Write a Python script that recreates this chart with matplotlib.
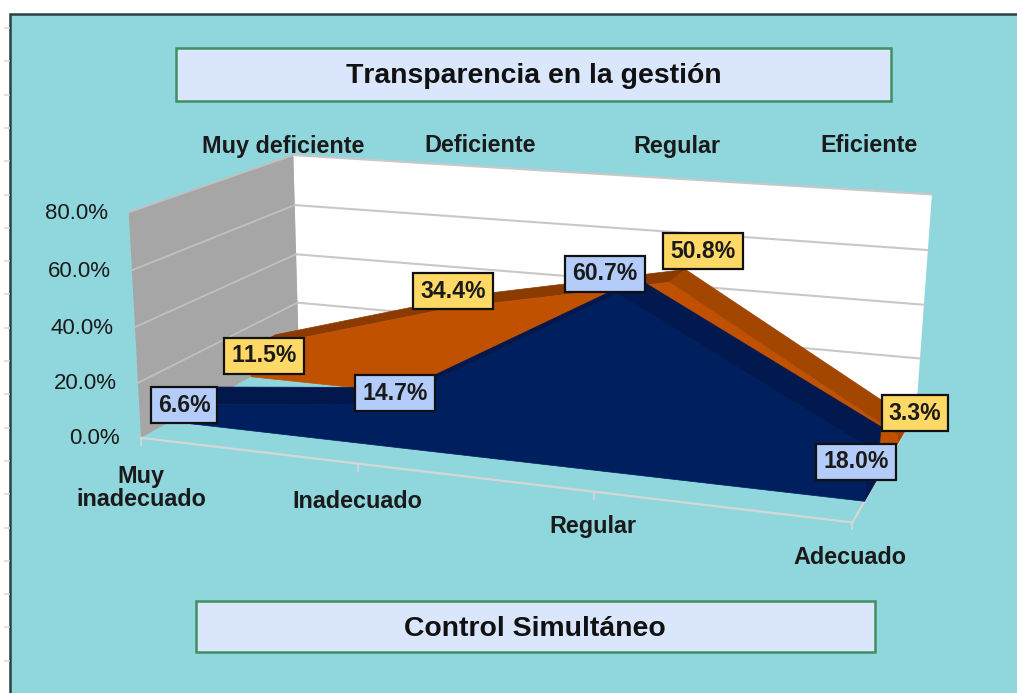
import numpy as np
import matplotlib
matplotlib.use('Agg')
import matplotlib.pyplot as plt
from matplotlib.patches import Polygon, Rectangle

plt.rcParams['font.family'] = ['Liberation Sans', 'DejaVu Sans']
plt.rcParams['text.kerning_factor'] = 6

categories = ['Muy\ninadecuado', 'Inadecuado', 'Regular', 'Adecuado']
top_labels = ['Muy deficiente', 'Deficiente', 'Regular', 'Eficiente']
blue_values = [6.6, 14.7, 60.7, 18.0]
orange_values = [11.5, 34.4, 50.8, 3.3]
y_ticks = [0, 20, 40, 60, 80]

title = 'Transparencia en la gestión'
x_title = 'Control Simultáneo'

# where the labels sit, in image pixels
blue_label_xy = [(184, 405), (395, 393), (605, 274), (856, 462)]
orange_label_xy = [(264, 356), (453, 291), (703, 251), (915, 413)]
top_label_xy = [(283, 146), (480, 146), (677, 146), (869, 146)]
cat_label_xy = [(141, 488), (357, 501), (593, 527), (850, 558)]

BG = '#90D7DD'
ORANGE = '#C05100'
ORANGE_UP = '#8C3B00'
ORANGE_DOWN = '#A24600'
NAVY = '#001F5E'
NAVY_UP = '#02184C'
NAVY_DOWN = '#01194E'

# fit a projective camera: (category 0-1, depth 0-1, value 0-1) -> pixel
anchors = [
    ((0, 0, 0), (141, 437)), ((1, 0, 0), (851, 522)),
    ((0, 1, 0), (299, 352)), ((1, 1, 0), (918, 410)),
    ((0, 0, 1), (129, 211)), ((1, 0, 1), (871, 270)),
    ((0, 1, 1), (293, 155)), ((1, 1, 1), (930, 194)),
    ((1 / 3, 0, 0), (358, 464)), ((2 / 3, 0, 0), (593, 492)),
]
rows, rhs = [], []
for (a, b, c), (px, py) in anchors:
    rows.append([a, b, c, 1, 0, 0, 0, 0, -px * a, -px * b, -px * c])
    rhs.append(px)
    rows.append([0, 0, 0, 0, a, b, c, 1, -py * a, -py * b, -py * c])
    rhs.append(py)
cam = np.append(np.linalg.lstsq(np.array(rows, float), np.array(rhs, float), rcond=None)[0], 1).reshape(3, 4)


def proj(cat, depth, val):
    # cat is a category index, val is in percent
    p = cam @ np.array([cat / 3, depth, val / 80, 1])
    return p[0] / p[2], p[1] / p[2]


fig = plt.figure(figsize=(10.17, 6.93), dpi=100)
ax = fig.add_axes([0, 0, 1, 1])
ax.set_xlim(0, 1017)
ax.set_ylim(693, 0)
ax.axis('off')

# picture frame and the ruler ticks left of it
ax.add_patch(Rectangle((10, 14), 1010, 690, fc=BG, ec='#2C3E44', lw=1.8))
for y in np.arange(28, 693, 33.3):
    ax.plot([5, 9], [y, y], color='#DADADA', lw=1.2)

# walls
ax.add_patch(Polygon([proj(0, 1, 0), proj(3, 1, 0), proj(3, 1, 80), proj(0, 1, 80)],
                     fc='white', ec='none'))
ax.add_patch(Polygon([proj(0, 0, 0), proj(0, 1, 0), proj(0, 1, 80), proj(0, 0, 80)],
                     fc='#A6A6A6', ec='none'))
for v in y_ticks:
    back_l, back_r, front_l = proj(0, 1, v), proj(3, 1, v), proj(0, 0, v)
    if v > 0:
        ax.plot([back_l[0], back_r[0]], [back_l[1], back_r[1]], color='#C8C8C8', lw=1.5)
        ax.plot([front_l[0], back_l[0]], [front_l[1], back_l[1]], color='#C0C0C0', lw=1.3)
    ax.text(front_l[0] - 21, front_l[1] + 1, f'{v:.1f}%', ha='right', va='center',
            fontsize=16, color='#1A1A1A')

# floor edges and ticks
for a, b in [((0, 0), (3, 0)), ((3, 0), (3, 1))]:
    p, q = proj(a[0], a[1], 0), proj(b[0], b[1], 0)
    ax.plot([p[0], q[0]], [p[1], q[1]], color='#D6D6D6', lw=1.6)
for i in range(4):
    p = proj(i, 0, 0)
    ax.plot([p[0], p[0]], [p[1], p[1] + 7], color='#D6D6D6', lw=1.3)


def draw_area(values, d0, d1, front, up, down):
    n = len(values)
    for i in range(n - 1):
        col = up if values[i + 1] > values[i] else down
        ax.add_patch(Polygon([proj(i, d0, values[i]), proj(i + 1, d0, values[i + 1]),
                              proj(i + 1, d1, values[i + 1]), proj(i, d1, values[i])],
                             fc=col, ec=col, lw=0.5, zorder=3))
    # right side
    ax.add_patch(Polygon([proj(n - 1, d0, 0), proj(n - 1, d1, 0),
                          proj(n - 1, d1, values[-1]), proj(n - 1, d0, values[-1])],
                         fc=down, ec=down, lw=0.5, zorder=3))
    pts = [proj(0, d0, 0)] + [proj(i, d0, values[i]) for i in range(n)] + [proj(n - 1, d0, 0)]
    ax.add_patch(Polygon(pts, fc=front, ec=front, lw=0.5, zorder=3))


draw_area(orange_values, 0.665, 0.84, ORANGE, ORANGE_UP, ORANGE_DOWN)
draw_area(blue_values, 0.165, 0.35, NAVY, NAVY_UP, NAVY_DOWN)

# data labels
for vals, xy, col in [(orange_values, orange_label_xy, '#FFD966'), (blue_values, blue_label_xy, '#B4CCFA')]:
    for v, (x, y) in zip(vals, xy):
        ax.text(x, y, f'{v:.1f}%', ha='center', va='center', fontsize=16.6, fontweight='bold',
                color='#1A1A1A', zorder=5,
                bbox=dict(boxstyle='square,pad=0.3', fc=col, ec='#111111', lw=1.6))

for lab, (x, y) in zip(top_labels, top_label_xy):
    ax.text(x, y, lab, ha='center', va='center', fontsize=16.8, fontweight='bold', color='#1A1A1A')
for lab, (x, y) in zip(categories, cat_label_xy):
    ax.text(x, y, lab, ha='center', va='center', fontsize=16.8, fontweight='bold', color='#1A1A1A',
            linespacing=1.05)

# title boxes
ax.add_patch(Rectangle((176, 48), 715, 53, fc='#D9E6FC', ec='#3F8F5F', lw=1.8))
ax.text(534, 76, title, ha='center', va='center', fontsize=20.4, fontweight='bold', color='#111111')
ax.add_patch(Rectangle((196, 601), 679, 51, fc='#D9E6FC', ec='#3F8F5F', lw=1.8))
ax.text(535, 629, x_title, ha='center', va='center', fontsize=20.4, fontweight='bold', color='#111111')

fig.savefig('out.png', dpi=100)
